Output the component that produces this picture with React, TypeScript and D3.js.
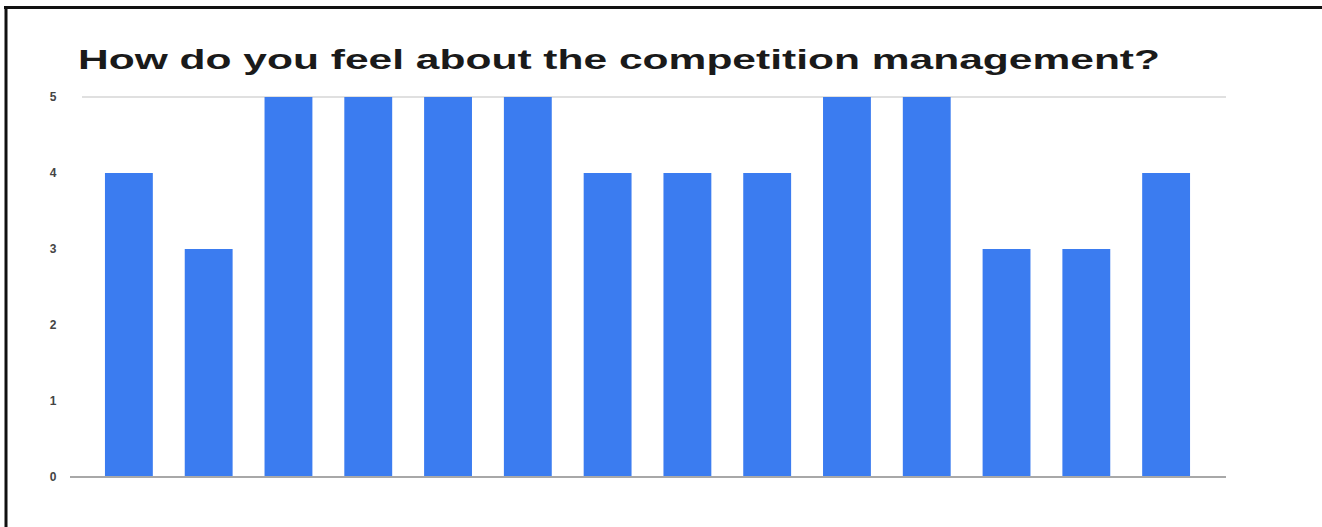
import React, { useEffect } from "react";
import * as d3 from "d3";

const categories = ["1","2","3","4","5","6","7","8","9","10","11","12","13","14"];
const values = [4, 3, 5, 5, 5, 5, 4, 4, 4, 5, 5, 3, 3, 4];
const yTicks = [0, 1, 2, 3, 4, 5];
const title = "How do you feel about the competition management?";

export default function App() {
  useEffect(() => {
    document.body.style.margin = "0";
    document.body.style.overflow = "hidden";
    document.body.style.background = "#fff";
  }, []);
  const W = 1322, H = 527;
  const x = d3.scaleBand<string>().domain(categories).range([89, 1206]).paddingInner(0.4).paddingOuter(0.2);
  const y = d3.scaleLinear().domain([0, 5]).range([477, 97]);
  return (
    <svg width={W} height={H} style={{ display: "block", background: "#fff", border: "none" }}>
      <rect x={0} y={0} width={W} height={H} fill="#fff" />
      <line x1={4} x2={W + 10} y1={7.5} y2={7.5} stroke="#111" strokeWidth={3} />
      <line x1={6} x2={6} y1={6} y2={H} stroke="#111" strokeWidth={3} />
      <text x={78} y={69} fontFamily="'Liberation Sans', Arial, sans-serif" fontWeight="bold" fontSize={28}
        fill="#1a1a1a" textLength={1082} lengthAdjust="spacingAndGlyphs">{title}</text>
      <line x1={82} x2={1226} y1={y(5)} y2={y(5)} stroke="#d6d6d6" strokeWidth={1.5} />
      {yTicks.map(t => (
        <text key={t} x={53} y={y(t) + 4} textAnchor="middle" fontFamily="'Liberation Sans', Arial, sans-serif"
          fontSize={12} fontWeight="bold" fill="#444">{t}</text>
      ))}
      {values.map((v, i) => (
        <rect key={i} x={x(categories[i])} y={y(v)} width={x.bandwidth()} height={y(0) - y(v)} fill="#3b7cf0" />
      ))}
      <line x1={70} x2={1226} y1={y(0)} y2={y(0)} stroke="#a8a8a8" strokeWidth={2} />
    </svg>
  );
}
